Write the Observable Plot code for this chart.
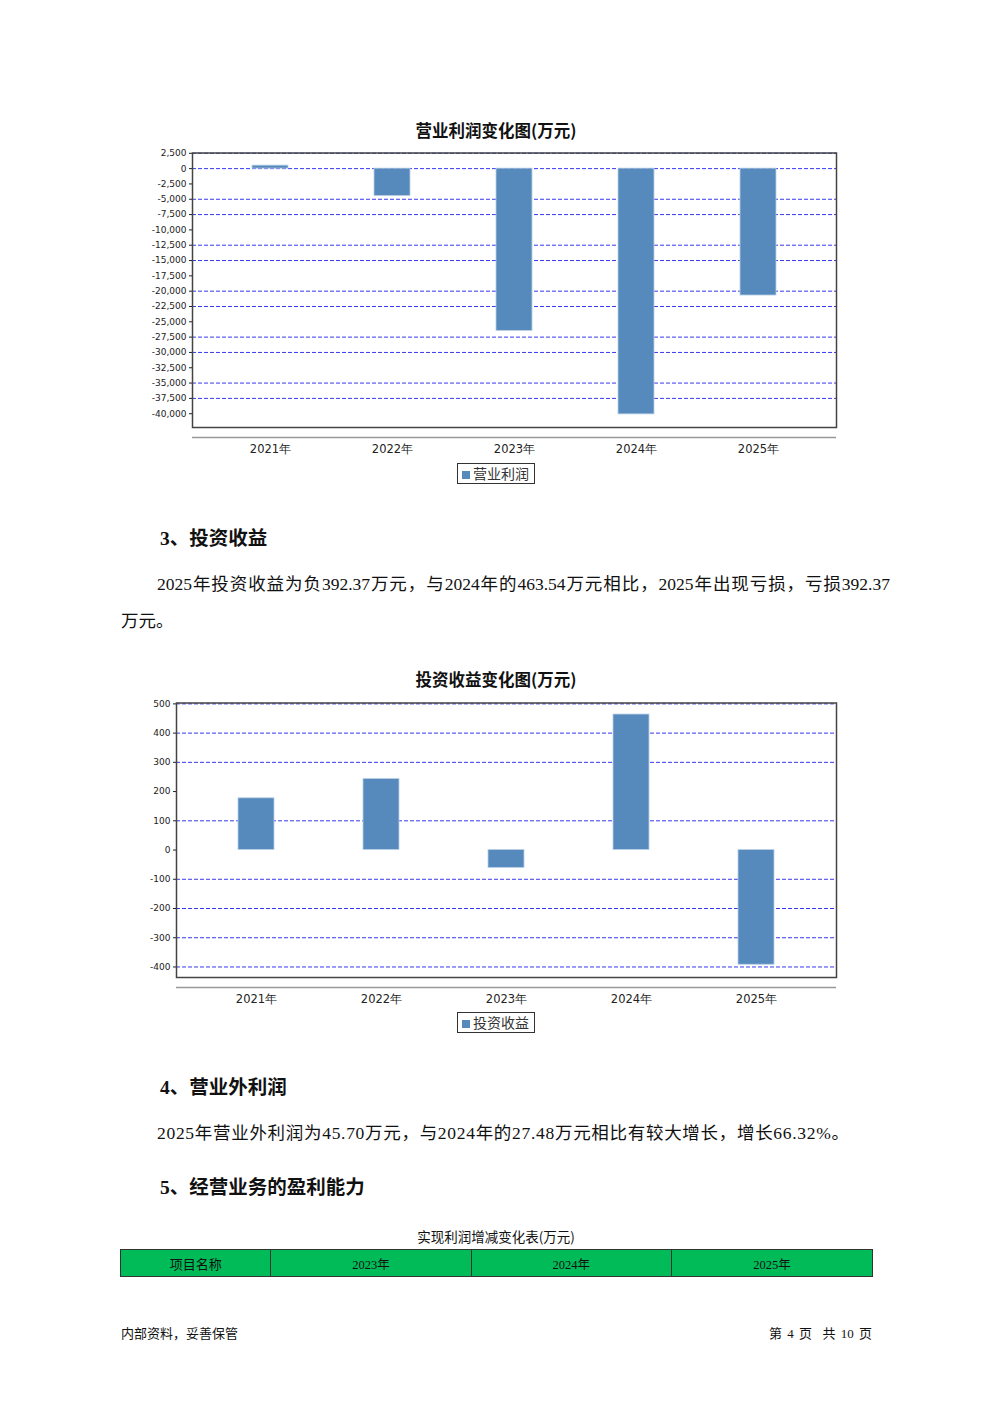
<!DOCTYPE html>
<html>
<head>
<meta charset="utf-8">
<script src="https://cdn.jsdelivr.net/npm/d3@7"></script>
<script src="https://cdn.jsdelivr.net/npm/@observablehq/plot@0.6"></script>
<style>
  body { margin: 0; background: #fff; }
  #page { position: relative; width: 992px; height: 1403px; background: #fff; overflow: hidden; font-family: "Liberation Serif", "Noto Sans CJK SC", serif; color: #111; }
  .abs { position: absolute; }
  .ctitle { left: 0; width: 992px; text-align: center; font-family: "Noto Sans CJK SC", sans-serif; font-weight: bold; font-size: 16.5px; color: #111; }
  .legend { border: 1px solid #333; font-family: "Noto Sans CJK SC", sans-serif; font-size: 14px; color: #333; height: 19px; line-height: 19px; box-sizing: content-box; white-space: nowrap; }
  .legend i { display: inline-block; width: 8px; height: 8px; background: #568abc; margin: 0 3px 0 4px; vertical-align: 0px; }
  .head { font-family: "Liberation Serif", "Noto Sans CJK SC", serif; font-weight: bold; font-size: 19.5px; }
  .para { font-size: 17.5px; line-height: 37px; }
  table { border-collapse: collapse; }
  td { border: 1px solid #333; background: #00bb58; text-align: center; font-size: 12.5px; padding: 0; height: 26px; }
</style>
</head>
<body>
<div id="page">
  <div class="abs ctitle" style="top:118px;">营业利润变化图(万元)</div>
  <div id="chart1" class="abs" style="left:140px; top:145px;"></div>
  <div class="abs legend" style="left:457px; top:463px; width:76px;"><i></i>营业利润</div>

  <div class="abs head" style="left:160px; top:522px;">3、投资收益</div>
  <div class="abs para" style="left:121px; top:566px; width:769px;">
    <div style="text-indent:36px; text-align:justify; text-align-last:justify;">2025年投资收益为负392.37万元，与2024年的463.54万元相比，2025年出现亏损，亏损392.37</div>
    <div>万元。</div>
  </div>

  <div class="abs ctitle" style="top:667px;">投资收益变化图(万元)</div>
  <div id="chart2" class="abs" style="left:130px; top:695px;"></div>
  <div class="abs legend" style="left:457px; top:1012px; width:76px;"><i></i>投资收益</div>

  <div class="abs head" style="left:160px; top:1071px;">4、营业外利润</div>
  <div class="abs para" style="left:157px; top:1115px; white-space:nowrap; letter-spacing:0.7px;">2025年营业外利润为45.70万元，与2024年的27.48万元相比有较大增长，增长66.32%。</div>
  <div class="abs head" style="left:160px; top:1171px;">5、经营业务的盈利能力</div>

  <div class="abs" style="left:0; width:992px; top:1226px; text-align:center; font-family:'Noto Sans CJK SC',sans-serif; font-size:13.5px;">实现利润增减变化表(万元)</div>
  <table class="abs" style="left:120px; top:1249px; width:753px;">
    <tr>
      <td style="width:150px; font-family:'Noto Sans CJK SC',sans-serif; font-size:13px;">项目名称</td>
      <td style="width:200px;">2023年</td>
      <td style="width:200px;">2024年</td>
      <td style="width:201px;">2025年</td>
    </tr>
  </table>

  <div class="abs" style="left:121px; top:1323px; font-family:'Noto Sans CJK SC',sans-serif; font-size:13px;">内部资料，妥善保管</div>
  <div class="abs" style="right:120px; top:1323px; font-family:'Liberation Serif','Noto Sans CJK SC',serif; font-size:13px; word-spacing:2px;">第 4 页&nbsp;&nbsp;共 10 页</div>
</div>
<script>
const years = ["2021年", "2022年", "2023年", "2024年", "2025年"];
const opProfit = [490, -4470, -26480, -40110, -20710];
const invIncome = [177, 243, -61, 463.54, -392.37];
const opTicks = [2500, 0, -2500, -5000, -7500, -10000, -12500, -15000, -17500, -20000, -22500, -25000, -27500, -30000, -32500, -35000, -37500, -40000];
const opGrid = [2500, 0, -5000, -7500, -12500, -15000, -20000, -22500, -27500, -30000, -35000, -37500];
const invTicks = [500, 400, 300, 200, 100, 0, -100, -200, -300, -400];
const invGrid = [500, 400, 300, 100, -100, -200, -300, -400];

const opData = years.map((y, i) => ({year: y, value: opProfit[i]}));
const invData = years.map((y, i) => ({year: y, value: invIncome[i]}));
const fmt = d => d.toLocaleString("en-US");

function barChart({data, ticks, grid, domain, width, marginLeft, paddingInner, paddingOuter}) {
  return Plot.plot({
    width, height: 315,
    marginLeft, marginRight: 14, marginTop: 7.5, marginBottom: 33,
    style: {fontFamily: "DejaVu Sans, sans-serif", fontSize: "9px", color: "#222", background: "transparent", overflow: "visible"},
    x: {domain: years, paddingInner, paddingOuter, label: null},
    y: {domain, label: null},
    marks: [
      Plot.ruleY(grid, {stroke: "#3838f0", strokeDasharray: "4,2", strokeWidth: 1}),
      Plot.barY(data, {x: "year", y: "value", fill: "#568abc", stroke: "#b8cfe6", strokeWidth: 0.8}),
      Plot.frame({stroke: "#444", strokeWidth: 1.5}),
      Plot.ruleY([domain[0]], {dy: 10, stroke: "#999", strokeWidth: 1.5}),
      Plot.axisY({ticks, tickFormat: fmt, tickSize: 3, tickPadding: 3, label: null}),
      Plot.axisX({tickSize: 0, tickPadding: 17, fontSize: 11.5, label: null})
    ]
  });
}

document.getElementById("chart1").append(barChart({
  data: opData, ticks: opTicks, grid: opGrid, domain: [-42250, 2550],
  width: 710, marginLeft: 52, paddingInner: 0.706, paddingOuter: 0.486
}));
document.getElementById("chart2").append(barChart({
  data: invData, ticks: invTicks, grid: invGrid, domain: [-436, 503],
  width: 720, marginLeft: 46, paddingInner: 0.712, paddingOuter: 0.496
}));
</script>
</body>
</html>
